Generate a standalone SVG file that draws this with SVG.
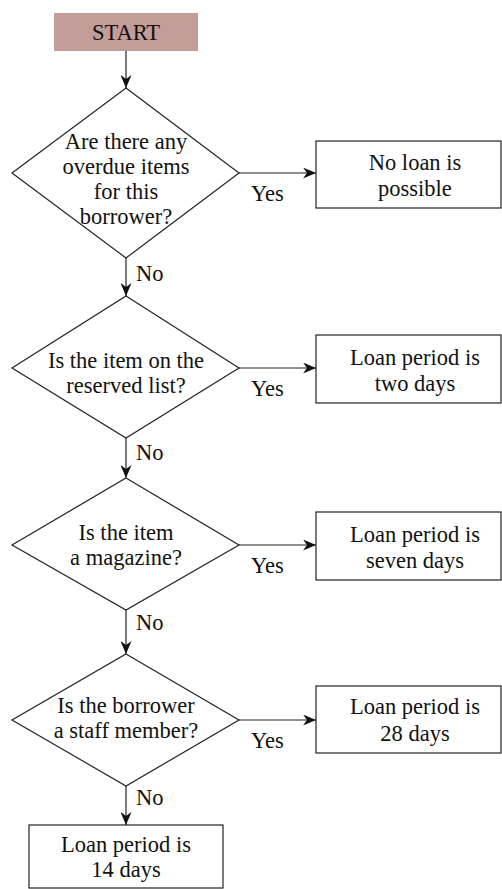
<svg xmlns="http://www.w3.org/2000/svg" width="502" height="889" viewBox="0 0 502 889">
<style>
.shape{fill:#fff;stroke:#222;stroke-width:1.2}
.t{font-family:'Liberation Serif','DejaVu Serif',serif;font-size:22.5px;fill:#111;text-anchor:middle}
.lbl{font-family:'Liberation Serif','DejaVu Serif',serif;font-size:22.5px;fill:#111}
.c{fill:none;stroke:#222;stroke-width:1.2;marker-end:url(#ah)}
</style>
<defs>
<marker id="ah" markerUnits="userSpaceOnUse" markerWidth="14" markerHeight="11" refX="13" refY="5.5" orient="auto">
<path d="M0,0 L13,5.5 L0,11 L4,5.5 z" fill="#111"/>
</marker>
</defs>
<rect width="502" height="889" fill="#fff"/>
<g id="connectors">
<line class="c" x1="126" y1="51" x2="126" y2="88"/>
<line class="c" x1="239" y1="173" x2="316" y2="173"/>
<line class="c" x1="126" y1="258" x2="126" y2="296"/>
<line class="c" x1="239" y1="368" x2="316" y2="368"/>
<line class="c" x1="126" y1="438" x2="126" y2="478"/>
<line class="c" x1="239" y1="545" x2="316" y2="545"/>
<line class="c" x1="126" y1="610" x2="126" y2="654"/>
<line class="c" x1="239" y1="720" x2="316" y2="720"/>
<line class="c" x1="126" y1="786" x2="126" y2="825"/>
<text class="lbl" x="251" y="201">Yes</text>
<text class="lbl" x="251" y="396">Yes</text>
<text class="lbl" x="251" y="573">Yes</text>
<text class="lbl" x="251" y="748">Yes</text>
<text class="lbl" x="136" y="281">No</text>
<text class="lbl" x="136" y="460">No</text>
<text class="lbl" x="136" y="630">No</text>
<text class="lbl" x="136" y="805">No</text>
</g>
<g id="start">
<rect x="54" y="13" width="144" height="38" fill="#c49c9a"/>
<text class="t" x="126" y="40">START</text>
</g>
<g id="q1">
<polygon class="shape" points="126,88 239,173 126,258 12,173"/>
<text class="t" x="126" y="148.5">Are there any</text>
<text class="t" x="126" y="173.5">overdue items</text>
<text class="t" x="126" y="198.5">for this</text>
<text class="t" x="126" y="223.5">borrower?</text>
</g>
<g id="r1">
<rect class="shape" x="316" y="141" width="185" height="67"/>
<text class="t" x="415" y="170">No loan is</text>
<text class="t" x="415" y="196">possible</text>
</g>
<g id="q2">
<polygon class="shape" points="126,296 239,368 126,438 12,368"/>
<text class="t" x="126" y="367.5">Is the item on the</text>
<text class="t" x="126" y="392.5">reserved list?</text>
</g>
<g id="r2">
<rect class="shape" x="316" y="335" width="185" height="68"/>
<text class="t" x="415" y="365">Loan period is</text>
<text class="t" x="415" y="391">two days</text>
</g>
<g id="q3">
<polygon class="shape" points="126,478 239,545 126,610 12,545"/>
<text class="t" x="126" y="539.5">Is the item</text>
<text class="t" x="126" y="564.5">a magazine?</text>
</g>
<g id="r3">
<rect class="shape" x="316" y="512" width="185" height="68"/>
<text class="t" x="415" y="542">Loan period is</text>
<text class="t" x="415" y="568">seven days</text>
</g>
<g id="q4">
<polygon class="shape" points="126,654 239,720 126,786 12,720"/>
<text class="t" x="126" y="713">Is the borrower</text>
<text class="t" x="126" y="738">a staff member?</text>
</g>
<g id="r4">
<rect class="shape" x="316" y="686" width="185" height="67"/>
<text class="t" x="415" y="714">Loan period is</text>
<text class="t" x="415" y="741">28 days</text>
</g>
<g id="r5">
<rect class="shape" x="29" y="825" width="194" height="63"/>
<text class="t" x="126" y="852">Loan period is</text>
<text class="t" x="126" y="877">14 days</text>
</g>
</svg>
